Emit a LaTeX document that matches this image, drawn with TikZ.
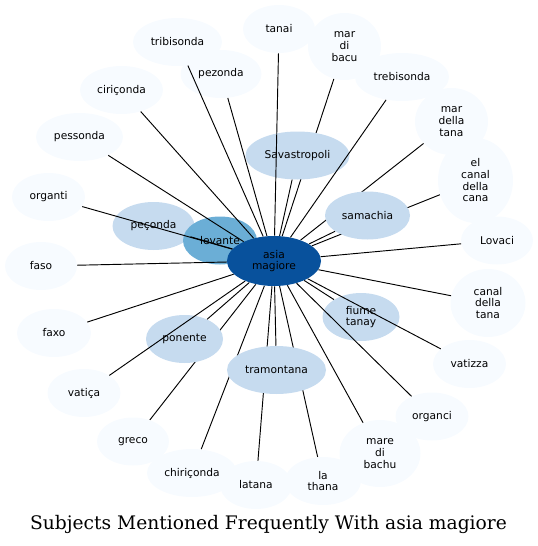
\documentclass[tikz,border=0pt]{standalone}
\usepackage{fontspec}
\setmainfont{DejaVu Sans}
\newfontfamily\titlefont{DejaVu Serif}
\usetikzlibrary{shapes.geometric,backgrounds}
\definecolor{HubBlue}{HTML}{08519C}
\definecolor{MidBlue}{HTML}{6BAED6}
\definecolor{SoftBlue}{HTML}{C6DBEF}
\definecolor{PaleBlue}{HTML}{F7FBFF}

\begin{document}
\begin{tikzpicture}[x=0.75pt, y=-0.75pt,
  subj/.style={ellipse, fill=PaleBlue, inner sep=0pt, align=center,
    minimum width=54pt, minimum height=36pt, font=\fontsize{8}{8.75}\selectfont},
  wd/.style={minimum width=#1*0.75pt},
  ht/.style={minimum height=#1*0.75pt},
  link/.style={line width=0.7pt}]
  % Canvas
  \useasboundingbox (0,0) rectangle (538,546);

  % Outer ring
  \node[subj, wd=89] (tribisonda) at (177.5,42) {tribisonda};
  \node[subj] (tanai) at (279,29) {tanai};
  \node[subj, wd=73, ht=67] (mardibacu) at (344.5,46.5) {mar\\di\\bacu};
  \node[subj, wd=81] (pezonda) at (221,74) {pezonda};
  \node[subj, wd=94] (trebisonda) at (402,77) {trebisonda};
  \node[subj, wd=83] (ciriconda) at (121.5,90) {ciriçonda};
  \node[subj, wd=73, ht=67] (mardellatana) at (451.5,121.5) {mar\\della\\tana};
  \node[subj, wd=87] (pessonda) at (79.5,137) {pessonda};
  \node[subj, wd=75, ht=85] (elcanal) at (475.5,180.5) {el\\canal\\della\\cana};
  \node[subj, wd=73] (organti) at (48.5,197) {organti};
  \node[subj] (lovaci) at (497,240.5) {Lovaci};
  \node[subj] (faso) at (41,266) {faso};
  \node[subj, wd=75, ht=68] (canaltana) at (488,303) {canal\\della\\tana};
  \node[subj, wd=74] (faxo) at (54,333) {faxo};
  \node[subj, wd=73] (vatizza) at (469.5,364) {vatizza};
  \node[subj, wd=73] (vatica) at (84,393) {vatiça};
  \node[subj, wd=73] (organci) at (432,416.5) {organci};
  \node[subj] (greco) at (133,441.5) {greco};
  \node[subj, wd=81, ht=67] (maredibachu) at (380,453.5) {mare\\di\\bachu};
  \node[subj, wd=90] (chiriconda) at (192,473) {chiriçonda};
  \node[subj] (latana) at (256,485) {latana};
  \node[subj, wd=76] (lathana) at (323,481) {la\\thana};

  % Inner ring
  \node[subj, fill=SoftBlue, wd=104] (savastropoli) at (297.5,155.5) {Savastropoli};
  \node[subj, fill=SoftBlue, wd=85] (samachia) at (367.5,215.5) {samachia};
  \node[subj, fill=SoftBlue, wd=77] (fiumetanay) at (361,317) {fiume\\tanay};
  \node[subj, fill=SoftBlue, wd=77] (ponente) at (184.5,339) {ponente};
  \node[subj, fill=SoftBlue, wd=99] (tramontana) at (276.5,370) {tramontana};
  \node[subj, fill=SoftBlue, wd=82] (pesconda) at (153.5,226) {peçonda};
  \node[subj, fill=MidBlue, wd=74] (levante) at (220,240.5) {levante};

  % Hub
  \node[subj, fill=HubBlue, wd=94, ht=50] (asia) at (274,261) {asia\\magiore};

  % Links hidden under the inner ring
  \begin{pgfonlayer}{background}
    \foreach \n in {mardibacu, mardellatana, elcanal, greco, chiriconda, latana, lathana}
      \draw[link] (asia) -- (\n);
  \end{pgfonlayer}

  % Links on top
  \foreach \n in {tribisonda, tanai, pezonda, trebisonda, ciriconda, pessonda,
      organti, lovaci, faso, canaltana, faxo, vatizza, vatica, organci,
      maredibachu, savastropoli, samachia, fiumetanay, ponente, tramontana, pesconda}
    \draw[link] (asia) -- (\n);

  % Title
  \node[font=\titlefont\fontsize{14}{16}\selectfont] (title) at (268.5,524)
    {Subjects Mentioned Frequently With asia magiore};
\end{tikzpicture}
\end{document}
